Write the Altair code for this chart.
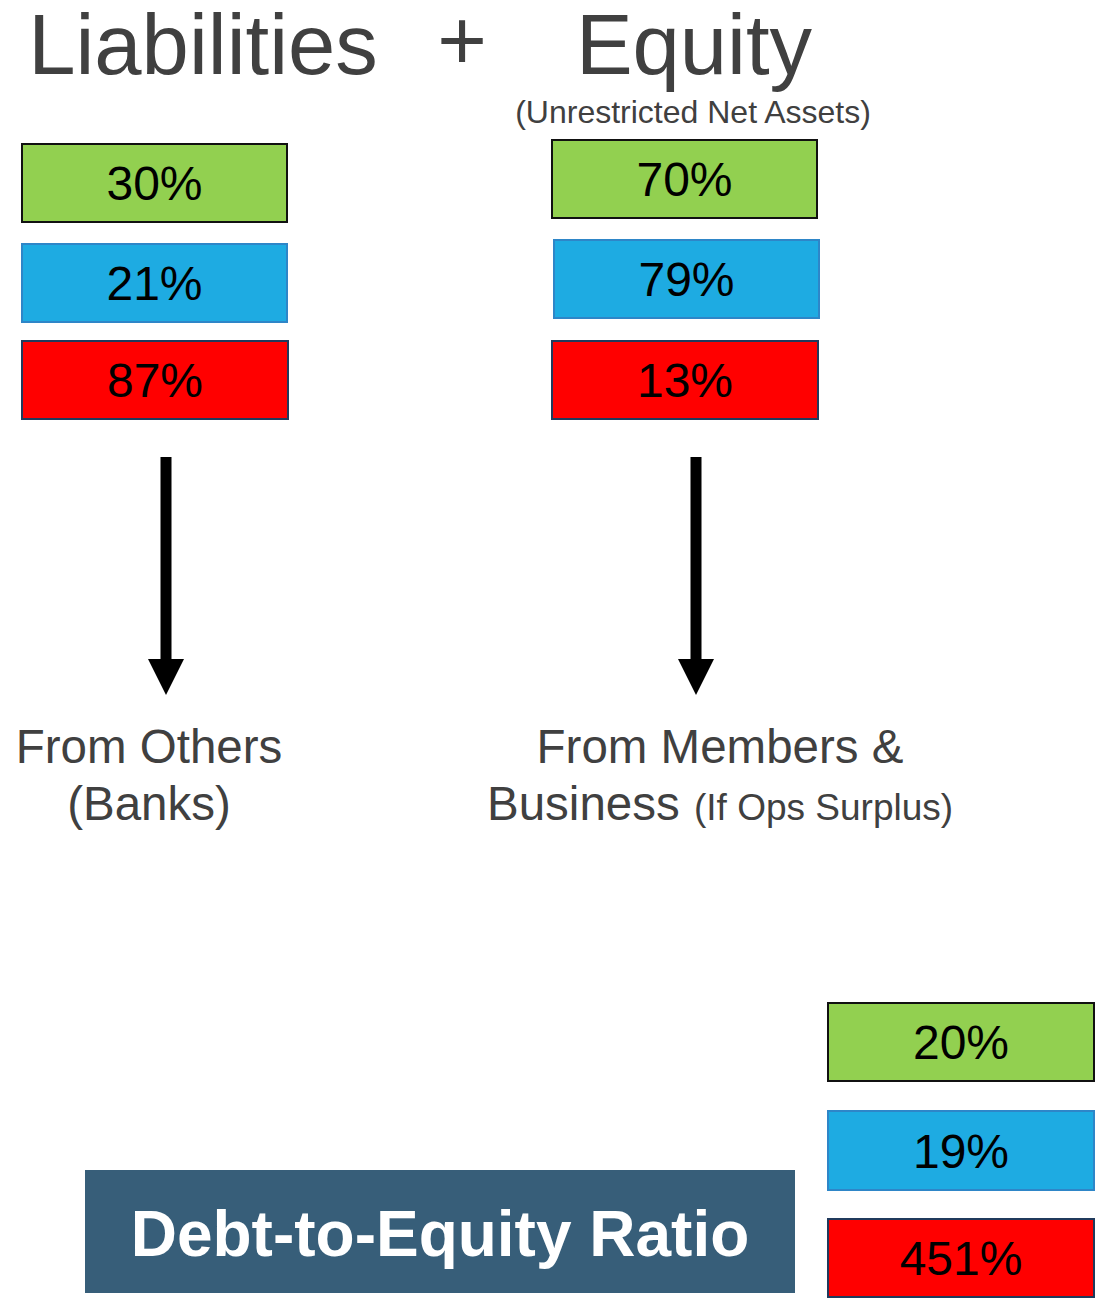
import altair as alt
import pandas as pd

# ---------------- data ----------------
statuses = ["green", "blue", "red"]
liabilities_pct = ["30%", "21%", "87%"]
equity_pct = ["70%", "79%", "13%"]
ratio_pct = ["20%", "19%", "451%"]

fill_colors = ["#92D050", "#1EABE2", "#FF0000"]
stroke_colors = ["#111111", "#2E86C8", "#203A5C"]

title_left = "Liabilities"
title_plus = "+"
title_right = "Equity"
subtitle_right = "(Unrestricted Net Assets)"
left_caption = ["From Others", "(Banks)"]
right_caption_1 = "From Members &"
right_caption_2a = "Business"
right_caption_2b = "(If Ops Surplus)"
ratio_title = "Debt-to-Equity Ratio"

# ---------------- layout (pixel space, y downwards) ----------------
W, H = 1102, 1298
box_layout = {
    "liab": dict(x0=[22, 22, 22], x1=[287, 287, 288], y0=[144, 244, 341], y1=[222, 322, 419]),
    "eq": dict(x0=[552, 554, 552], x1=[817, 819, 818], y0=[140, 240, 341], y1=[218, 318, 419]),
    "ratio": dict(x0=[828, 828, 828], x1=[1094, 1094, 1094], y0=[1003, 1111, 1219], y1=[1081, 1190, 1297]),
}
values_by_group = {"liab": liabilities_pct, "eq": equity_pct, "ratio": ratio_pct}

rows = []
for g, lay in box_layout.items():
    for i, s in enumerate(statuses):
        x0, x1, y0, y1 = lay["x0"][i], lay["x1"][i], lay["y0"][i], lay["y1"][i]
        rows.append(dict(group=g, status=s, label=values_by_group[g][i],
                         x0=x0, x1=x1, y0=y0, y1=y1,
                         cx=(x0 + x1) / 2, by=(y0 + y1) / 2 + 17))
boxes = pd.DataFrame(rows)

xs = alt.Scale(domain=[0, W], nice=False, zero=False)
ys = alt.Scale(domain=[0, H], nice=False, zero=False, reverse=True)

fill_scale = alt.Scale(domain=statuses, range=fill_colors)
stroke_scale = alt.Scale(domain=statuses, range=stroke_colors)

FONT = "Liberation Sans"
GREY = "#404040"

box_rects = alt.Chart(boxes).mark_rect(strokeWidth=2).encode(
    x=alt.X("x0:Q", scale=xs, axis=None),
    x2="x1:Q",
    y=alt.Y("y0:Q", scale=ys, axis=None),
    y2="y1:Q",
    color=alt.Color("status:N", scale=fill_scale, legend=None),
    stroke=alt.Stroke("status:N", scale=stroke_scale, legend=None),
)

box_text = alt.Chart(boxes).mark_text(
    font=FONT, fontSize=48, align="center", baseline="alphabetic", color="#000000"
).encode(
    x=alt.X("cx:Q", scale=xs, axis=None),
    y=alt.Y("by:Q", scale=ys, axis=None),
    text="label:N",
)

# arrows
arrow_cx = [166, 696]
shaft = pd.DataFrame(dict(x0=[c - 5.5 for c in arrow_cx], x1=[c + 5.5 for c in arrow_cx],
                          y0=[457, 457], y1=[662, 662]))
shaft_layer = alt.Chart(shaft).mark_rect(color="#000000").encode(
    x=alt.X("x0:Q", scale=xs, axis=None), x2="x1:Q",
    y=alt.Y("y0:Q", scale=ys, axis=None), y2="y1:Q",
)
heads = pd.DataFrame(dict(x=arrow_cx, y=[677, 677]))
head_layer = alt.Chart(heads).mark_point(
    shape="M -1 -1 L 1 -1 L 0 1 Z", filled=True, opacity=1, color="#000000", size=36 * 36
).encode(
    x=alt.X("x:Q", scale=xs, axis=None),
    y=alt.Y("y:Q", scale=ys, axis=None),
)

# titles & captions
texts = pd.DataFrame([
    dict(t=title_left, x=203, y=74, size=85, weight="normal", align="center", color=GREY),
    dict(t=title_plus, x=462, y=70, size=85, weight="normal", align="center", color=GREY),
    dict(t=title_right, x=694, y=74, size=85, weight="normal", align="center", color=GREY),
    dict(t=subtitle_right, x=693, y=123, size=32, weight="normal", align="center", color=GREY),
    dict(t=left_caption[0], x=149, y=763, size=47.5, weight="normal", align="center", color=GREY),
    dict(t=left_caption[1], x=149, y=820, size=47.5, weight="normal", align="center", color=GREY),
    dict(t=right_caption_1, x=720, y=763, size=47.5, weight="normal", align="center", color=GREY),
    dict(t=right_caption_2a, x=487, y=820, size=47.5, weight="normal", align="left", color=GREY),
    dict(t=right_caption_2b, x=694, y=820, size=37, weight="normal", align="left", color=GREY),
])

def text_layer(df):
    layers = []
    for (size, weight, align, color), sub in df.groupby(["size", "weight", "align", "color"]):
        layers.append(alt.Chart(sub).mark_text(
            font=FONT, fontSize=float(size), fontWeight=weight, align=align,
            baseline="alphabetic", color=color
        ).encode(
            x=alt.X("x:Q", scale=xs, axis=None),
            y=alt.Y("y:Q", scale=ys, axis=None),
            text="t:N",
        ))
    return layers

# debt-to-equity banner
banner = pd.DataFrame(dict(x0=[85], x1=[795], y0=[1170], y1=[1293], cx=[440], by=[1256], t=[ratio_title]))
banner_rect = alt.Chart(banner).mark_rect(color="#375E79").encode(
    x=alt.X("x0:Q", scale=xs, axis=None), x2="x1:Q",
    y=alt.Y("y0:Q", scale=ys, axis=None), y2="y1:Q",
)
banner_text = alt.Chart(banner).mark_text(
    font=FONT, fontSize=64, fontWeight="bold", align="center", baseline="alphabetic", color="#FFFFFF"
).encode(
    x=alt.X("cx:Q", scale=xs, axis=None),
    y=alt.Y("by:Q", scale=ys, axis=None),
    text="t:N",
)

chart = alt.layer(
    box_rects, box_text, shaft_layer, head_layer, banner_rect, banner_text, *text_layer(texts)
).properties(
    width=W, height=H, padding=0, autosize=alt.AutoSizeParams(type="none"),
    background="#FFFFFF",
).configure_view(stroke=None)

chart.save("out.html", embed_options={"renderer": "svg", "actions": False})
